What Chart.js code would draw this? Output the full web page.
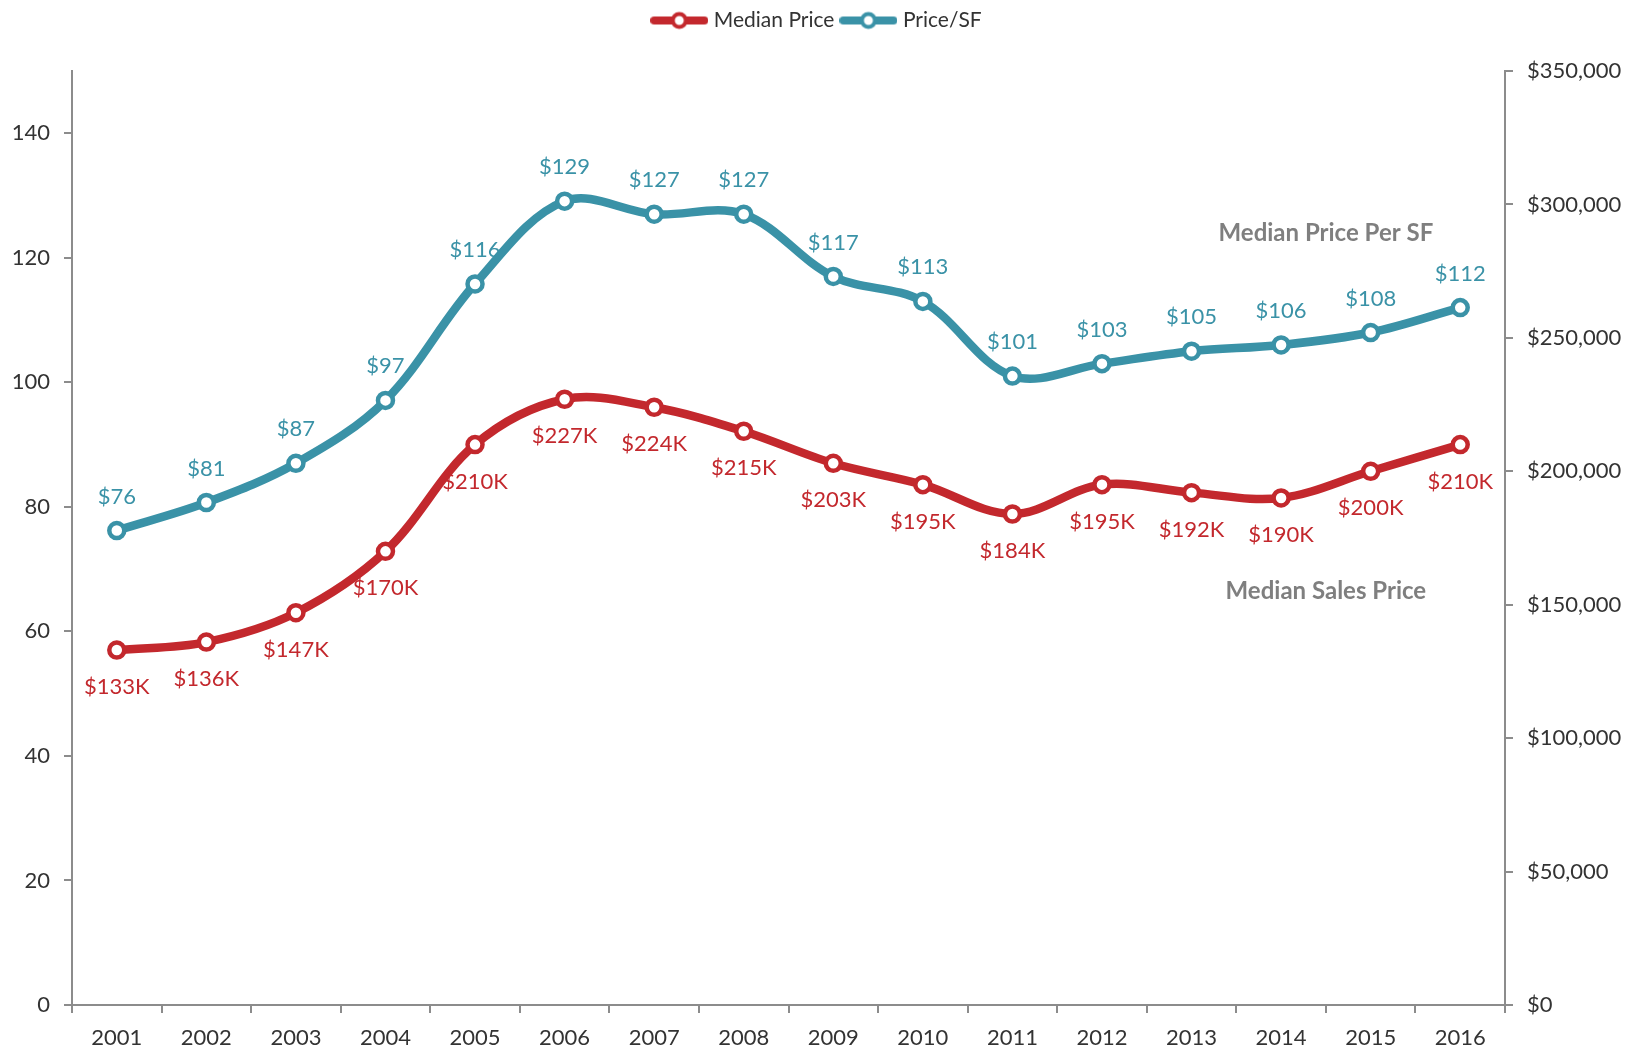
<!DOCTYPE html>
<html>
<head>
<meta charset="utf-8">
<script src="https://cdn.jsdelivr.net/npm/chart.js@4.4.1/dist/chart.umd.min.js"></script>
<style>
  html, body { margin: 0; padding: 0; background: #fff; }
  #wrap { width: 1637px; height: 1054px; }
</style>
</head>
<body>
<div id="wrap"><canvas id="chart" width="1637" height="1054"></canvas></div>
<script>
const years = ["2001", "2002", "2003", "2004", "2005", "2006", "2007", "2008",
  "2009", "2010", "2011", "2012", "2013", "2014", "2015", "2016"];
const medianPrice = [133000, 136000, 147000, 170000, 210000, 227000, 224000, 215000,
  203000, 195000, 184000, 195000, 192000, 190000, 200000, 210000];
const pricePerSF = [76.2, 80.7, 87, 97.1, 115.8, 129.1, 127, 127,
  117, 113, 101, 103, 105, 106, 108, 112];
const leftTicks = [0, 20, 40, 60, 80, 100, 120, 140];
const rightTicks = [0, 50000, 100000, 150000, 200000, 250000, 300000, 350000];

const RED = "#c3282d";
const BLUE = "#3a92a7";
const FONT = "Lato, 'Open Sans', sans-serif";

// legend marker: thick line with hollow circle
function legendMark(color) {
  const c = document.createElement("canvas");
  c.width = 58; c.height = 22;
  const g = c.getContext("2d");
  g.strokeStyle = color;
  g.lineWidth = 8;
  g.lineCap = "round";
  g.beginPath(); g.moveTo(4, 11); g.lineTo(54, 11); g.stroke();
  g.fillStyle = "#fff";
  g.lineWidth = 4;
  g.beginPath(); g.arc(29, 11, 6.5, 0, Math.PI * 2); g.fill(); g.stroke();
  return c;
}
const marks = [legendMark(RED), legendMark(BLUE)];

// extra room between legend and plot
const legendGap = {
  id: "legendGap",
  afterInit(chart) {
    const lg = chart.legend;
    const fit = lg.fit;
    lg.fit = function () { fit.call(this); this.height += 30; };
  }
};

const valueLabels = {
  id: "valueLabels",
  afterDatasetsDraw(chart) {
    const ctx = chart.ctx;
    ctx.save();
    ctx.font = "22px " + FONT;
    ctx.textAlign = "center";
    ctx.textBaseline = "middle";
    chart.data.datasets.forEach((ds, i) => {
      const meta = chart.getDatasetMeta(i);
      meta.data.forEach((pt, j) => {
        const v = ds.data[j];
        ctx.fillStyle = ds.borderColor;
        if (ds.yAxisID === "y1") {
          ctx.fillText("$" + Math.round(v / 1000) + "K", pt.x, pt.y + 37);
        } else {
          ctx.fillText("$" + Math.round(v), pt.x, pt.y - 34);
        }
      });
    });
    // series captions
    const x = chart.scales.x;
    const y = chart.scales.y;
    const cx = (x.getPixelForValue(13) + x.getPixelForValue(14)) / 2;
    ctx.font = "bold 24px " + FONT;
    ctx.fillStyle = "#7f7f7f";
    ctx.fillText("Median Price Per SF", cx, y.getPixelForValue(124));
    ctx.fillText("Median Sales Price", cx, y.getPixelForValue(66.5));
    ctx.restore();
  }
};

const axisLine = { color: "#8c8c8c", width: 2 };
const tickGrid = { drawOnChartArea: false, drawTicks: true, tickLength: 8, color: "#8c8c8c", lineWidth: 2 };
const tickFont = { family: FONT, size: 22 };

new Chart(document.getElementById("chart"), {
  type: "line",
  data: {
    labels: years,
    datasets: [
      {
        label: "Median Price",
        data: medianPrice,
        yAxisID: "y1",
        borderColor: RED,
        backgroundColor: "#fff",
        borderWidth: 8.5,
        pointRadius: 7.5,
        pointBorderWidth: 4.5,
        pointBackgroundColor: "#fff",
        pointBorderColor: RED,
        tension: 0.35
      },
      {
        label: "Price/SF",
        data: pricePerSF,
        yAxisID: "y",
        borderColor: BLUE,
        backgroundColor: "#fff",
        borderWidth: 8.5,
        pointRadius: 7.5,
        pointBorderWidth: 4.5,
        pointBackgroundColor: "#fff",
        pointBorderColor: BLUE,
        tension: 0.35
      }
    ]
  },
  options: {
    responsive: false,
    animation: false,
    layout: { padding: { top: 0, left: 0, right: 0, bottom: 0 } },
    plugins: {
      tooltip: { enabled: false },
      legend: {
        position: "top",
        labels: {
          usePointStyle: true,
          pointStyleWidth: 48,
          boxHeight: 21,
          padding: 10,
          color: "#333",
          font: { family: FONT, size: 21 },
          generateLabels(chart) {
            const items = Chart.defaults.plugins.legend.labels.generateLabels(chart);
            items.forEach((it, i) => { it.pointStyle = marks[i]; });
            return items;
          }
        }
      }
    },
    scales: {
      x: {
        type: "category",
        offset: true,
        grid: { ...tickGrid, offset: true },
        border: axisLine,
        ticks: { color: "#333", padding: 12, font: tickFont, maxRotation: 0 },
        afterFit(s) { s.height = 49; }
      },
      y: {
        position: "left",
        min: 0,
        max: 150,
        afterBuildTicks(s) { s.ticks = leftTicks.map(v => ({ value: v })); },
        grid: tickGrid,
        border: axisLine,
        ticks: { color: "#333", padding: 14, font: tickFont },
        afterFit(s) { s.width = 72; }
      },
      y1: {
        position: "right",
        min: 0,
        max: 350000,
        afterBuildTicks(s) { s.ticks = rightTicks.map(v => ({ value: v })); },
        grid: tickGrid,
        border: axisLine,
        ticks: {
          color: "#333", padding: 14, font: tickFont,
          callback: v => "$" + v.toLocaleString("en-US")
        },
        afterFit(s) { s.width = 132; }
      }
    }
  },
  plugins: [legendGap, valueLabels]
});
</script>
</body>
</html>
